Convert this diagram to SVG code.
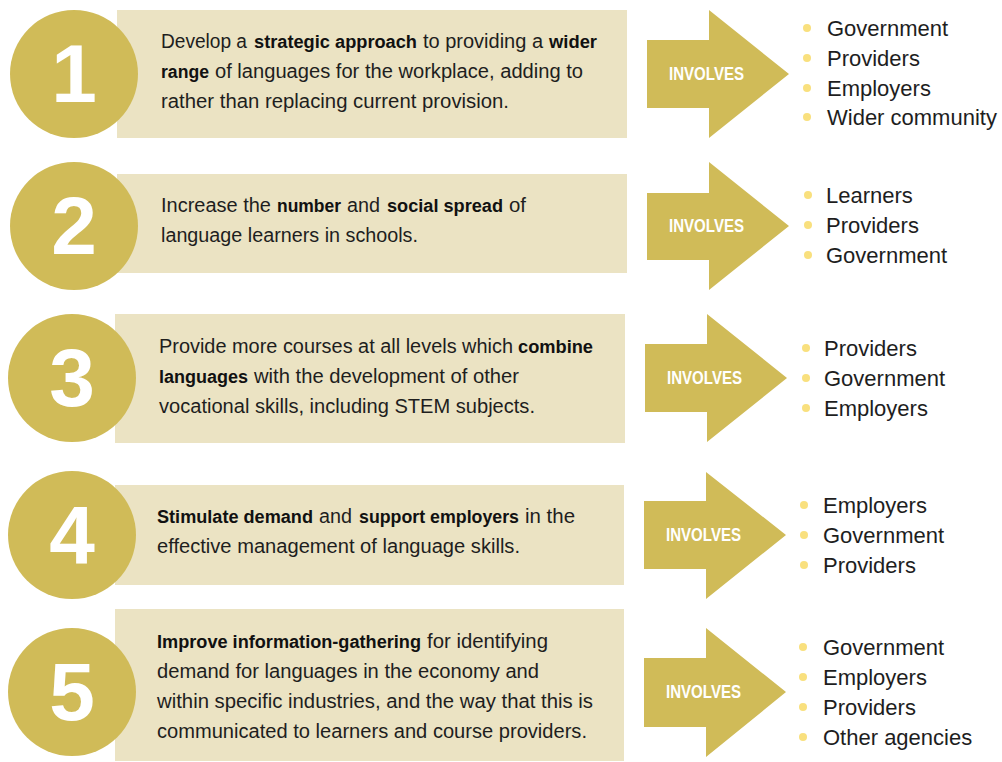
<svg xmlns="http://www.w3.org/2000/svg" width="1002" height="762" viewBox="0 0 1002 762">
<style>
.box{fill:#EBE3C3}
.circ{fill:#D0BB58}
.arrow{fill:#D0BB58}
.num{font-family:"Liberation Sans",Arial,sans-serif;font-weight:bold;font-size:82px;fill:#fff;text-anchor:middle}
.inv{font-family:"Liberation Sans",Arial,sans-serif;font-weight:bold;font-size:18px;fill:#fff;text-anchor:middle}
.body{font-family:"Liberation Sans",Arial,sans-serif;font-size:19.5px;fill:#1e1e1e}
.b{font-family:"Liberation Sans",Arial,sans-serif;font-size:18px;font-weight:bold;fill:#111}
.li{font-family:"Liberation Sans",Arial,sans-serif;font-size:22px;fill:#1e1e1e}
.dot{fill:#F9E07E}
</style>
<rect width="1002" height="762" fill="#fff"/>
<g id="connectors">
<polygon class="arrow" points="647,40 709,40 709,10 789,74 709,138 709,108 647,108"/>
<polygon class="arrow" points="647,193 709,193 709,162 789,226 709,290 709,260 647,260"/>
<polygon class="arrow" points="645,344 707,344 707,314 787,378 707,442 707,412 645,412"/>
<polygon class="arrow" points="644,501 706,501 706,472 786,535 706,599 706,569 644,569"/>
<polygon class="arrow" points="644,658 706,658 706,628 786,692 706,757 706,727 644,727"/>
<text class="inv" x="706.5" y="80" textLength="75" lengthAdjust="spacingAndGlyphs">INVOLVES</text>
<text class="inv" x="706.5" y="232" textLength="75" lengthAdjust="spacingAndGlyphs">INVOLVES</text>
<text class="inv" x="704.5" y="384" textLength="75" lengthAdjust="spacingAndGlyphs">INVOLVES</text>
<text class="inv" x="703.5" y="541" textLength="75" lengthAdjust="spacingAndGlyphs">INVOLVES</text>
<text class="inv" x="703.5" y="698" textLength="75" lengthAdjust="spacingAndGlyphs">INVOLVES</text>
</g>
<g id="step1">
<rect class="box" x="117" y="10" width="510" height="128"/>
<circle class="circ" cx="74" cy="74" r="64"/>
<text class="num" x="74" y="102">1</text>
<text class="body" x="161" y="48" textLength="86" lengthAdjust="spacingAndGlyphs">Develop a</text>
<text class="b" x="254" y="48" textLength="163" lengthAdjust="spacingAndGlyphs">strategic approach</text>
<text class="body" x="423" y="48" textLength="120" lengthAdjust="spacingAndGlyphs">to providing a</text>
<text class="b" x="549" y="48" textLength="48" lengthAdjust="spacingAndGlyphs">wider</text>
<text class="b" x="161" y="78" textLength="48" lengthAdjust="spacingAndGlyphs">range</text>
<text class="body" x="215" y="78" textLength="368" lengthAdjust="spacingAndGlyphs">of languages for the workplace, adding to</text>
<text class="body" x="161" y="108" textLength="348" lengthAdjust="spacingAndGlyphs">rather than replacing current provision.</text>
</g>
<g id="involves1">
<circle class="dot" cx="807" cy="28" r="4"/><text class="li" x="827" y="36">Government</text>
<circle class="dot" cx="807" cy="58" r="4"/><text class="li" x="827" y="66">Providers</text>
<circle class="dot" cx="807" cy="88" r="4"/><text class="li" x="827" y="96">Employers</text>
<circle class="dot" cx="807" cy="117" r="4"/><text class="li" x="827" y="125">Wider community</text>
</g>
<g id="step2">
<rect class="box" x="117" y="174" width="510" height="99"/>
<circle class="circ" cx="74" cy="226" r="64"/>
<text class="num" x="74" y="254">2</text>
<text class="body" x="161" y="212" textLength="110" lengthAdjust="spacingAndGlyphs">Increase the</text>
<text class="b" x="277" y="212" textLength="64" lengthAdjust="spacingAndGlyphs">number</text>
<text class="body" x="347" y="212" textLength="33" lengthAdjust="spacingAndGlyphs">and</text>
<text class="b" x="387" y="212" textLength="116" lengthAdjust="spacingAndGlyphs">social spread</text>
<text class="body" x="509" y="212" textLength="17" lengthAdjust="spacingAndGlyphs">of</text>
<text class="body" x="161" y="242" textLength="257" lengthAdjust="spacingAndGlyphs">language learners in schools.</text>
</g>
<g id="involves2">
<circle class="dot" cx="808" cy="195" r="4"/><text class="li" x="826" y="203">Learners</text>
<circle class="dot" cx="808" cy="225" r="4"/><text class="li" x="826" y="233">Providers</text>
<circle class="dot" cx="808" cy="255" r="4"/><text class="li" x="826" y="263">Government</text>
</g>
<g id="step3">
<rect class="box" x="115" y="314" width="510" height="129"/>
<circle class="circ" cx="72" cy="378" r="64"/>
<text class="num" x="72" y="406">3</text>
<text class="body" x="159" y="353" textLength="354" lengthAdjust="spacingAndGlyphs">Provide more courses at all levels which</text>
<text class="b" x="518" y="353" textLength="75" lengthAdjust="spacingAndGlyphs">combine</text>
<text class="b" x="159" y="383" textLength="89" lengthAdjust="spacingAndGlyphs">languages</text>
<text class="body" x="254" y="383" textLength="265" lengthAdjust="spacingAndGlyphs">with the development of other</text>
<text class="body" x="159" y="413" textLength="376" lengthAdjust="spacingAndGlyphs">vocational skills, including STEM subjects.</text>
</g>
<g id="involves3">
<circle class="dot" cx="806" cy="348" r="4"/><text class="li" x="824" y="356">Providers</text>
<circle class="dot" cx="806" cy="378" r="4"/><text class="li" x="824" y="386">Government</text>
<circle class="dot" cx="806" cy="408" r="4"/><text class="li" x="824" y="416">Employers</text>
</g>
<g id="step4">
<rect class="box" x="115" y="485" width="509" height="100"/>
<circle class="circ" cx="72" cy="535" r="64"/>
<text class="num" x="72" y="563">4</text>
<text class="b" x="157" y="523" textLength="156" lengthAdjust="spacingAndGlyphs">Stimulate demand</text>
<text class="body" x="319" y="523" textLength="33" lengthAdjust="spacingAndGlyphs">and</text>
<text class="b" x="359" y="523" textLength="160" lengthAdjust="spacingAndGlyphs">support employers</text>
<text class="body" x="525" y="523" textLength="50" lengthAdjust="spacingAndGlyphs">in the</text>
<text class="body" x="157" y="553" textLength="363" lengthAdjust="spacingAndGlyphs">effective management of language skills.</text>
</g>
<g id="involves4">
<circle class="dot" cx="804" cy="505" r="4"/><text class="li" x="823" y="513">Employers</text>
<circle class="dot" cx="804" cy="535" r="4"/><text class="li" x="823" y="543">Government</text>
<circle class="dot" cx="804" cy="565" r="4"/><text class="li" x="823" y="573">Providers</text>
</g>
<g id="step5">
<rect class="box" x="115" y="609" width="509" height="152"/>
<circle class="circ" cx="72" cy="692" r="64"/>
<text class="num" x="72" y="720">5</text>
<text class="b" x="157" y="648" textLength="264" lengthAdjust="spacingAndGlyphs">Improve information-gathering</text>
<text class="body" x="427" y="648" textLength="121" lengthAdjust="spacingAndGlyphs">for identifying</text>
<text class="body" x="157" y="678" textLength="382" lengthAdjust="spacingAndGlyphs">demand for languages in the economy and</text>
<text class="body" x="157" y="708" textLength="436" lengthAdjust="spacingAndGlyphs">within specific industries, and the way that this is</text>
<text class="body" x="157" y="738" textLength="430" lengthAdjust="spacingAndGlyphs">communicated to learners and course providers.</text>
</g>
<g id="involves5">
<circle class="dot" cx="803" cy="647" r="4"/><text class="li" x="823" y="655">Government</text>
<circle class="dot" cx="803" cy="677" r="4"/><text class="li" x="823" y="685">Employers</text>
<circle class="dot" cx="803" cy="707" r="4"/><text class="li" x="823" y="715">Providers</text>
<circle class="dot" cx="803" cy="737" r="4"/><text class="li" x="823" y="745">Other agencies</text>
</g>
</svg>
